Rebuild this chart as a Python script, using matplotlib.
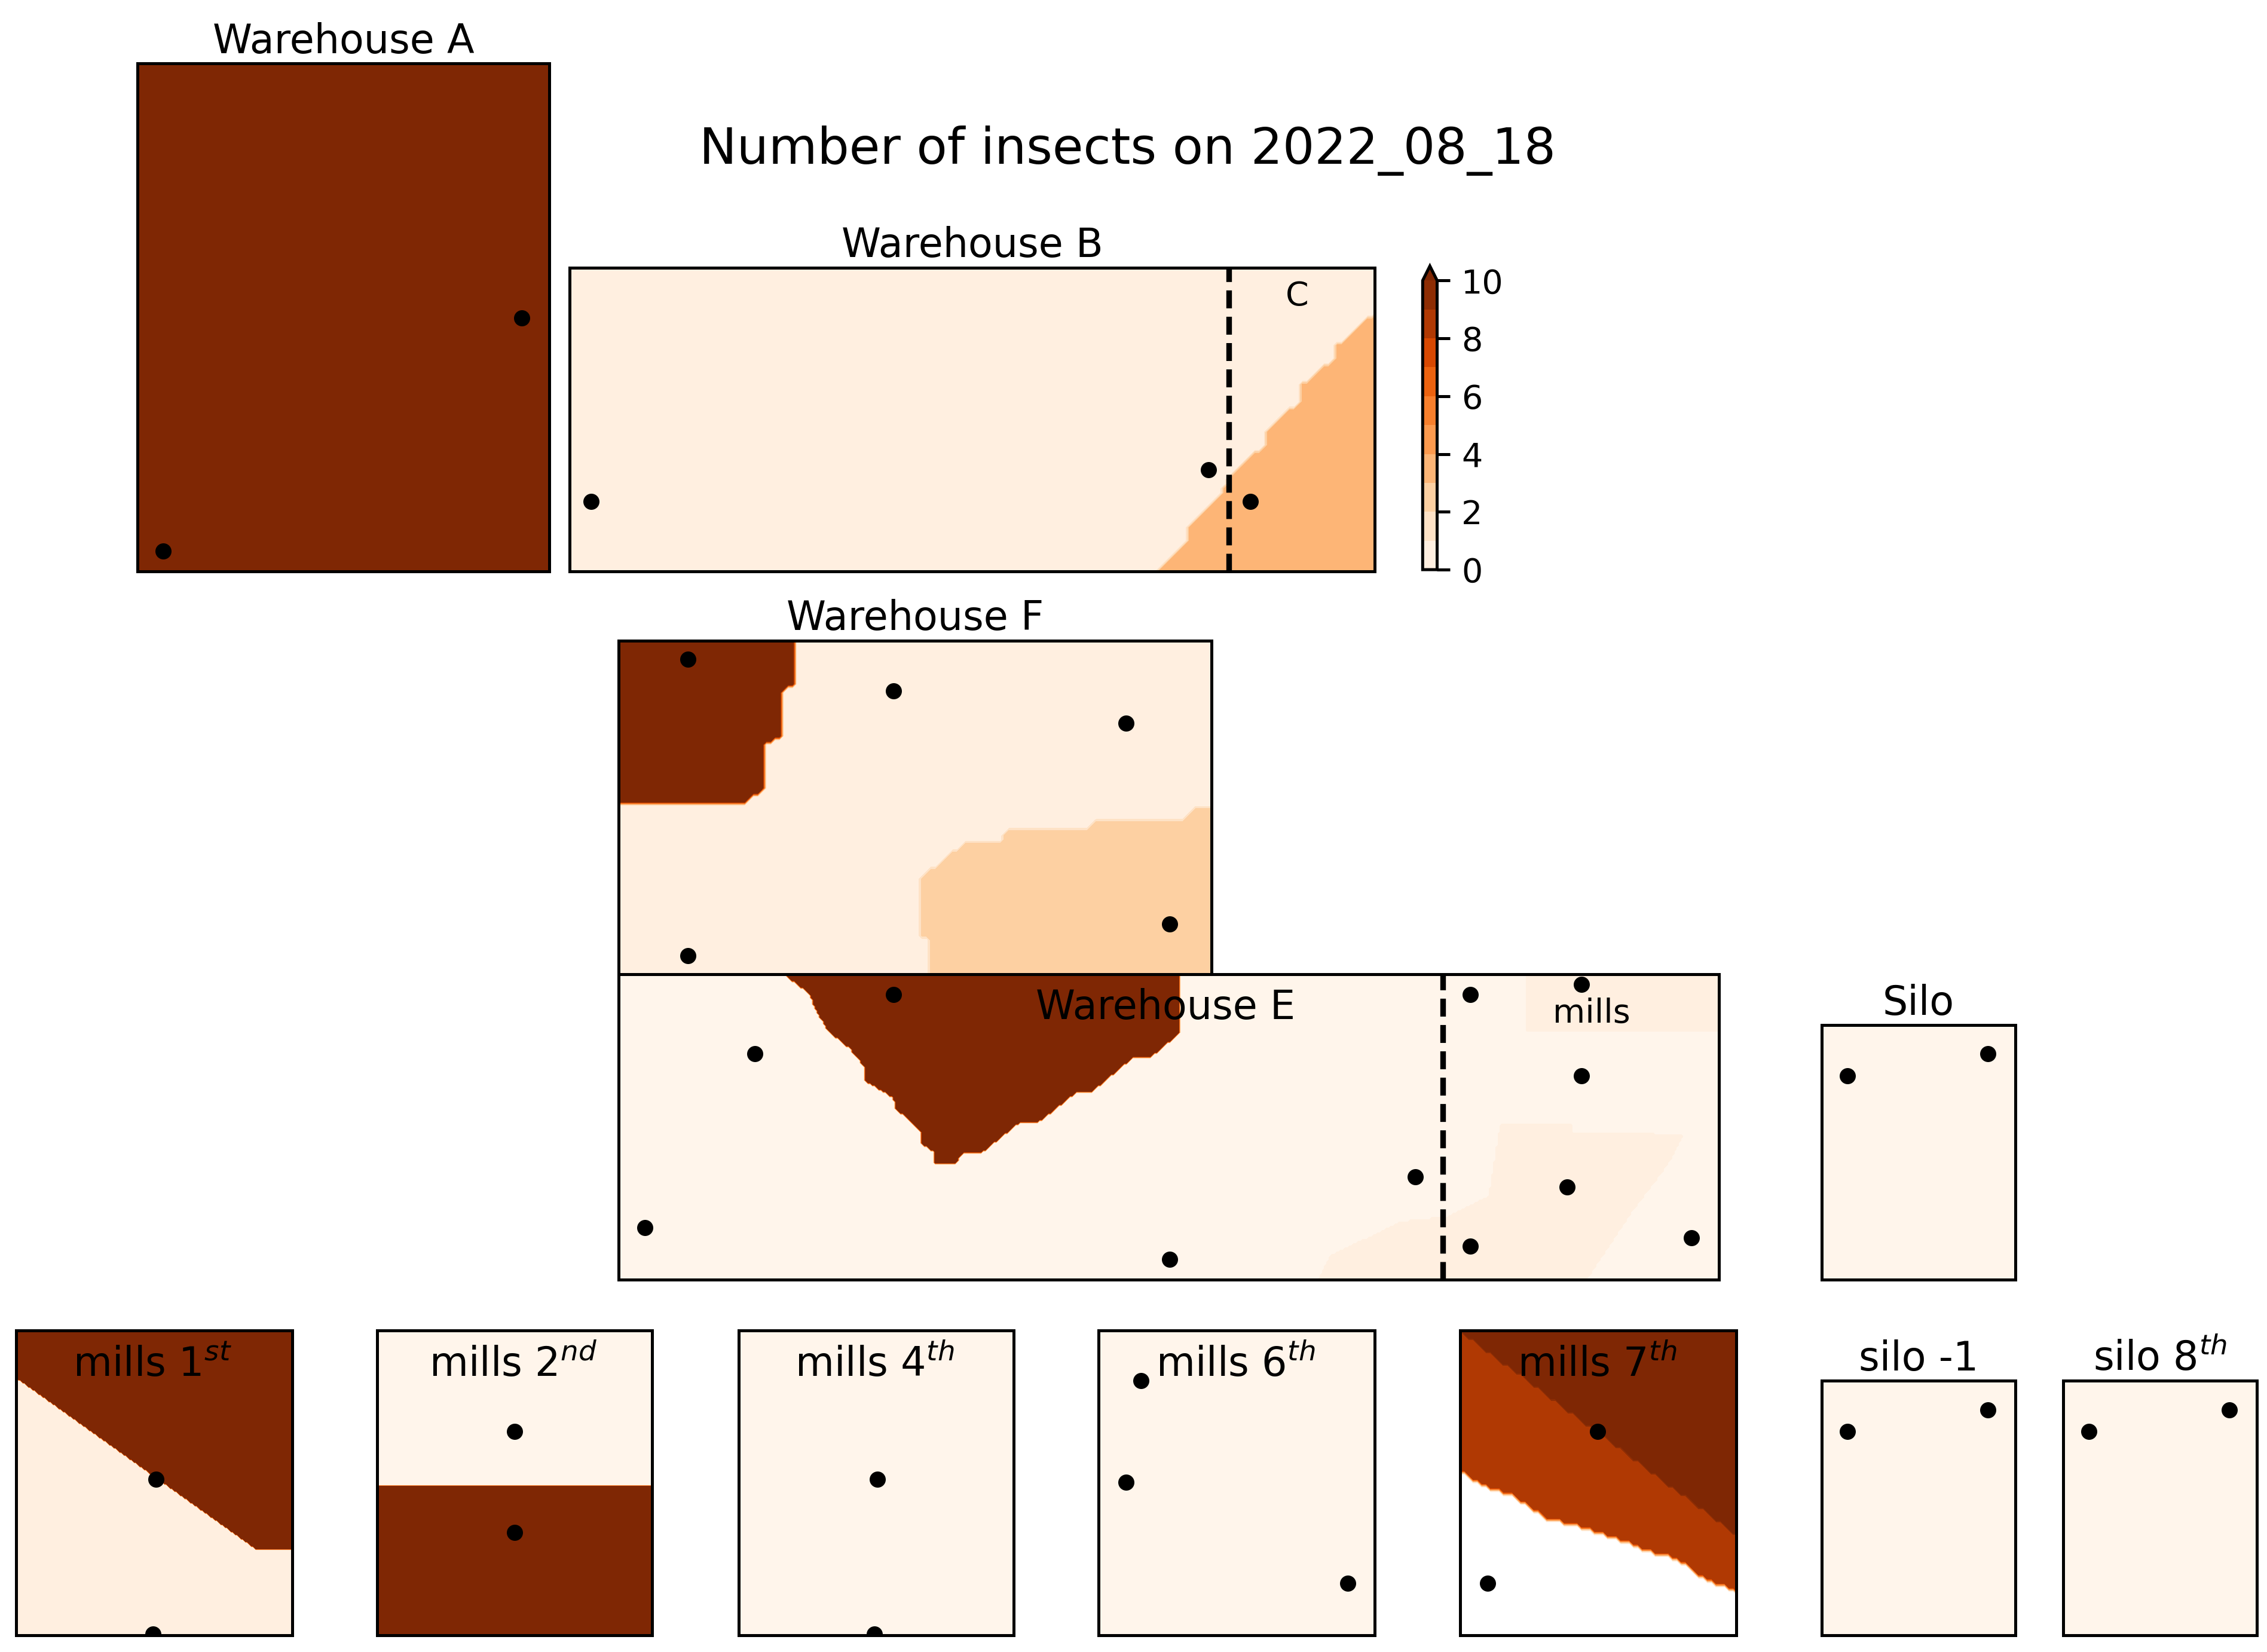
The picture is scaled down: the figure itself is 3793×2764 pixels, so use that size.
import matplotlib
matplotlib.use('Agg')
import matplotlib.pyplot as plt
import numpy as np
from matplotlib.colors import Normalize
from matplotlib.path import Path

# trap positions per room, units are pixels of the floor plan
dots_a = [(266, 175), (18, 14)]
dots_b = [(15, 48), (442, 70), (471, 48)]
dots_f = [(48, 218), (190, 196), (351, 174), (381, 35), (48, 13)]
dots_e = [(190, 197), (94, 156), (18, 36), (381, 14), (551, 71), (589, 197),
          (666, 204), (666, 141), (656, 64), (589, 23), (742, 29)]
dots_silo = [(18, 141), (115, 156)]
dots_m1 = [(97, 108), (95, 1)]
dots_m2 = [(95, 141), (95, 71)]
dots_m4 = [(96, 108), (94, 1)]
dots_m6 = [(29, 176), (19, 106), (172, 36)]
dots_m7 = [(95, 141), (19, 36)]

# insect count zones, (count, outline)
zone_b = [(3.5, [(405, 0), (427, 22), (427, 31), (449, 51.5), (459, 69), (481, 87), (481, 97),
                 (504, 116.5), (504, 127), (528, 146), (528, 153.5), (557, 178.6), (570, 178.6),
                 (570, -10), (405, -10)])]
zone_f = [(2.5, [(410, 114), (397, 114), (389, 106.5), (329, 106.5), (321, 99), (268, 99), (265, 92),
                 (241, 92), (209, 67), (209, 26), (216, 22.6), (216, 0), (216, -10), (420, -10), (420, 114)]),
          (12, [(122, 240), (122, 201.6), (112, 197), (112, 165), (101, 160), (101, 130), (89, 119.5),
                (-10, 119.5), (-10, 240)])]
zone_e = [(0.5, [(628, 172), (628, 220), (770, 220), (770, 172)]),
          (0.5, [(484, -10), (484, 0), (492, 16), (541, 40), (572, 43), (602, 58), (610, 107), (659, 107),
                 (659, 102), (736, 100), (726, 81), (700, 46), (669, 0), (669, -10)]),
          (12, [(116, 220), (116, 210), (132, 198), (136, 187), (145, 172), (160, 160), (170, 147), (170, 138),
                (190, 126), (192, 118), (209, 103), (210, 94), (219, 88), (219, 80), (232, 80), (238, 87),
                (250, 87), (276, 108), (289, 108), (317, 130), (327, 130), (356, 154), (368, 154), (387, 170),
                (387, 220)])]
zone_m1 = [(12, [(-5, 182), (167, 59), (200, 59), (200, 220), (-5, 220)])]
zone_m2 = [(12, [(-5, 103), (200, 103), (200, -10), (-5, -10)])]
zone_m7 = [(-1, [(-5, 115), (2.3, 112), (18.8, 101.8), (39, 95), (59.2, 81), (85, 74), (107, 67), (129, 58.7),
                 (151, 52), (171, 37), (189.6, 31), (200, 25), (200, -10), (-5, -10)]),
           (12, [(0, 211), (190, 71), (200, 64), (200, 220), (0, 220)])]

levels = list(range(11))
# rooms with no insects at all sit just under the first level
levels_low = [-0.5] + levels
cbar_ticks = [0, 2, 4, 6, 8, 10]

SCALE_W, SCALE_H = 1568, 1142.6
FS = 10.7
DASH = (0, (3.2, 1.5))

fig = plt.figure(figsize=(3793 / 450, 2764 / 450), dpi=450)
norm = Normalize(0, 10)


def panel(x0, y0, x1, y1, base, zones, dots, step=3):
    ax = fig.add_axes([x0 / SCALE_W, 1 - y1 / SCALE_H, (x1 - x0) / SCALE_W, (y1 - y0) / SCALE_H])
    w, h = x1 - x0, y1 - y0
    xs = np.arange(-step, w + 2 * step, step)
    ys = np.arange(-step, h + 2 * step, step)
    xx, yy = np.meshgrid(xs, ys)
    z = np.full(xx.shape, float(base))
    pts = np.column_stack([xx.ravel(), yy.ravel()])
    for value, outline in zones:
        z[Path(outline).contains_points(pts).reshape(xx.shape)] = value
    lv = levels_low if z.min() < 0 else levels
    cf = ax.contourf(xx, yy, z, levels=lv, cmap='Oranges', norm=norm, extend='max')
    ax.scatter([d[0] for d in dots], [d[1] for d in dots], s=11, color='black', zorder=5)
    ax.set_xlim(0, w)
    ax.set_ylim(0, h)
    ax.set_xticks([])
    ax.set_yticks([])
    return ax, cf


ax_a, _ = panel(95, 44, 380, 395, 12, [], dots_a)
ax_a.set_title('Warehouse A', fontsize=FS, pad=2.8)

ax_b, cf = panel(394, 185, 951, 395, 0.5, zone_b, dots_b)
ax_b.set_title('Warehouse B', fontsize=FS, pad=2.8)
ax_b.axvline(456, color='black', linestyle=DASH, linewidth=1.5, zorder=4)
ax_b.text(503, 190, 'C', fontsize=8.9, ha='center', va='center')

ax_f, _ = panel(428, 443, 838, 674, 0.5, zone_f, dots_f)
ax_f.set_title('Warehouse F', fontsize=FS, pad=2.8)

ax_e, _ = panel(428, 674, 1189, 885, -0.25, zone_e, dots_e, 1.5)
ax_e.text(378, 188, 'Warehouse E', fontsize=FS, ha='center', va='center', zorder=6)
ax_e.axvline(570, color='black', linestyle=DASH, linewidth=1.5, zorder=4)
ax_e.text(673, 184, 'mills', fontsize=8.9, ha='center', va='center', zorder=6)

ax_s, _ = panel(1260, 709, 1394, 885, -0.25, [], dots_silo)
ax_s.set_title('Silo', fontsize=FS, pad=2.8)

bottom = [(11, 202, 0.5, zone_m1, dots_m1, 'mills 1$^{st}$', 1),
          (261, 451, -0.25, zone_m2, dots_m2, 'mills 2$^{nd}$', 1),
          (511, 701, -0.25, [], dots_m4, 'mills 4$^{th}$', 1),
          (760, 951, -0.25, [], dots_m6, 'mills 6$^{th}$', 3),
          (1010, 1201, 8.5, zone_m7, dots_m7, 'mills 7$^{th}$', 3)]
for x0, x1, base, zones, dots, name, step in bottom:
    ax, _ = panel(x0, 920, x1, 1131, base, zones, dots, step)
    ax.text((x1 - x0) / 2 - 1, 187, name, fontsize=FS, ha='center', va='center', zorder=6)

ax, _ = panel(1260, 955, 1394, 1131, -0.25, [], dots_silo)
ax.set_title('silo -1', fontsize=FS, pad=2.8)
ax, _ = panel(1427, 955, 1561, 1131, -0.25, [], dots_silo)
ax.set_title('silo 8$^{th}$', fontsize=FS, pad=2.8)

cax = fig.add_axes([984 / SCALE_W, 1 - 394 / SCALE_H, 10 / SCALE_W, 210 / SCALE_H])
cb = fig.colorbar(cf, cax=cax, ticks=cbar_ticks)
cb.minorticks_off()
cb.ax.tick_params(labelsize=8.9, pad=3)

fig.text(780 / SCALE_W, 1 - 104 / SCALE_H, 'Number of insects on 2022_08_18', fontsize=13.4,
         ha='center', va='center')

plt.savefig('out.png', dpi=450)
